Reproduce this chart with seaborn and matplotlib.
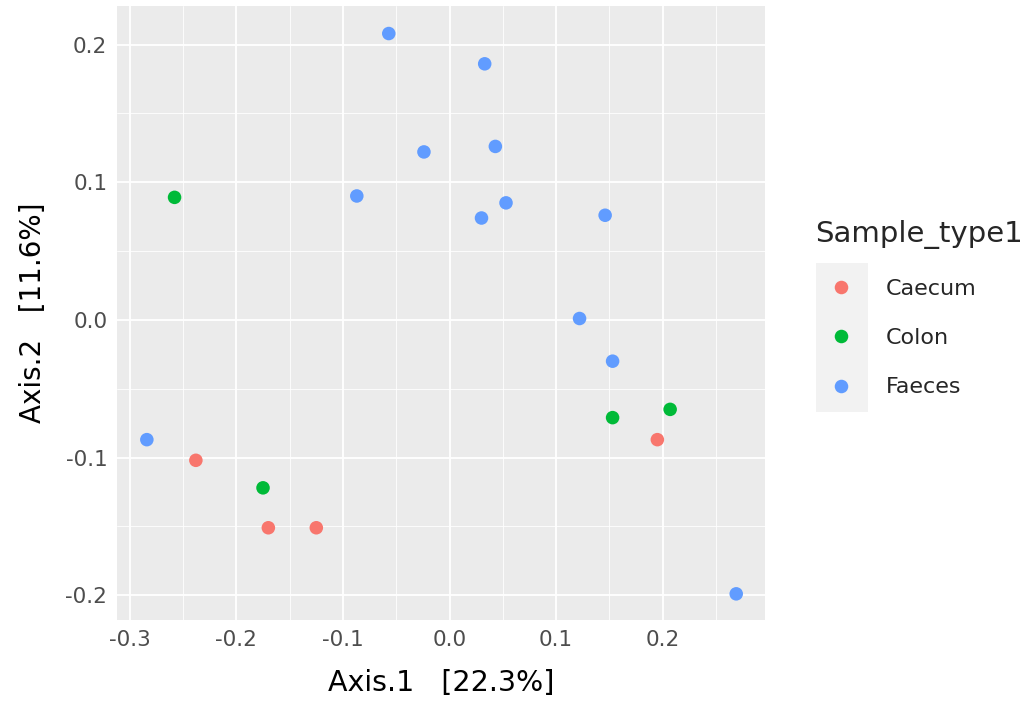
#!/usr/bin/env python3
"""
plot.py - PCoA ordination of samples coloured by sample type (ggplot look).
"""
# =========================================================================== #
# IMPORTS
# =========================================================================== #

import matplotlib.pyplot as plt
import matplotlib.patches as mpatches
import pandas as pd
import seaborn as sns


# =========================================================================== #
# CONSTANTS
# =========================================================================== #

# -- Data -- #

AXIS1 = [
    -0.057, -0.024, -0.087, 0.033, 0.043, 0.053, 0.030, 0.146, 0.122,
    -0.284, 0.153, 0.269,
    -0.238, -0.170, -0.125, 0.195,
    -0.258, -0.175, 0.153, 0.207,
]
AXIS2 = [
    0.208, 0.122, 0.090, 0.186, 0.126, 0.085, 0.074, 0.076, 0.001,
    -0.087, -0.030, -0.199,
    -0.102, -0.151, -0.151, -0.087,
    0.089, -0.122, -0.071, -0.065,
]
SAMPLE_TYPE = ['Faeces'] * 12 + ['Caecum'] * 4 + ['Colon'] * 4

HUE_ORDER = ['Caecum', 'Colon', 'Faeces']
X_TICKS = [-0.3, -0.2, -0.1, 0.0, 0.1, 0.2]
Y_TICKS = [-0.2, -0.1, 0.0, 0.1, 0.2]

# -- Styling -- #

PALETTE = {'Caecum': '#F8766D', 'Colon': '#00BA38', 'Faeces': '#619CFF'}
PANEL_BG = '#EBEBEB'
FONT = ['DejaVu Sans']


# =========================================================================== #
# FUNCTIONS
# =========================================================================== #

def build_frame() -> pd.DataFrame:
    return pd.DataFrame({
        'Axis.1': AXIS1,
        'Axis.2': AXIS2,
        'Sample_type1': SAMPLE_TYPE,
    })


def plot_ordination(df: pd.DataFrame):
    sns.set_theme(style='white')
    plt.rcParams['font.family'] = FONT

    fig = plt.figure(figsize=(10.32, 7.04), dpi=100)
    ax = fig.add_axes([117 / 1032, 1 - 620 / 704, 648 / 1032, 614 / 704])

    sns.scatterplot(
        data=df,
        x='Axis.1',
        y='Axis.2',
        hue='Sample_type1',
        hue_order=HUE_ORDER,
        palette=PALETTE,
        s=95,
        linewidth=0,
        ax=ax,
        zorder=3,
    )

    # ggplot-ish panel.
    ax.set_facecolor(PANEL_BG)
    for spine in ax.spines.values():
        spine.set_visible(False)
    ax.set_xlim(-0.312, 0.296)
    ax.set_ylim(-0.218, 0.228)
    ax.set_xticks(X_TICKS)
    ax.set_yticks(Y_TICKS)
    ax.set_xticklabels([f'{t:.1f}' for t in X_TICKS])
    ax.set_yticklabels([f'{t:.1f}' for t in Y_TICKS])
    ax.set_xticks([t + 0.05 for t in X_TICKS], minor=True)
    ax.set_yticks([-0.15, -0.05, 0.05, 0.15], minor=True)
    ax.grid(which='major', color='white', linewidth=1.3)
    ax.grid(which='minor', color='white', linewidth=0.6)
    ax.set_axisbelow(True)
    ax.tick_params(which='major', length=4, width=1.1, color='#333333',
                   labelcolor='#4D4D4D', labelsize=15.5, pad=3)
    ax.tick_params(which='minor', length=0)

    ax.set_xlabel('Axis.1   [22.3%]', fontsize=20.5, color='black',
                  labelpad=14)
    ax.set_ylabel('Axis.2   [11.6%]', fontsize=20, color='black',
                  labelpad=13)

    # Legend: rebuild on the right side of the figure.
    handles, labels = ax.get_legend_handles_labels()
    ax.get_legend().remove()
    leg = fig.legend(
        handles, labels,
        title='Sample_type1',
        loc='upper left',
        bbox_to_anchor=(811 / 1032, 1 - 216 / 704),
        frameon=False,
        fontsize=16,
        title_fontsize=21,
        labelspacing=1.32,
        handletextpad=0.85,
        handlelength=2.3,
        borderaxespad=0,
        borderpad=0.2,
    )
    leg._legend_box.align = 'left'

    # Grey key background, like ggplot's legend.key.
    fig.patches.append(mpatches.Rectangle(
        (816 / 1032, 1 - 412 / 704), 52 / 1032, 149 / 704,
        transform=fig.transFigure, facecolor='#F2F2F2', edgecolor='none',
        zorder=0,
    ))

    fig.savefig('out.png', dpi=100)


def main():
    df = build_frame()
    plot_ordination(df)


if __name__ == '__main__':
    main()
